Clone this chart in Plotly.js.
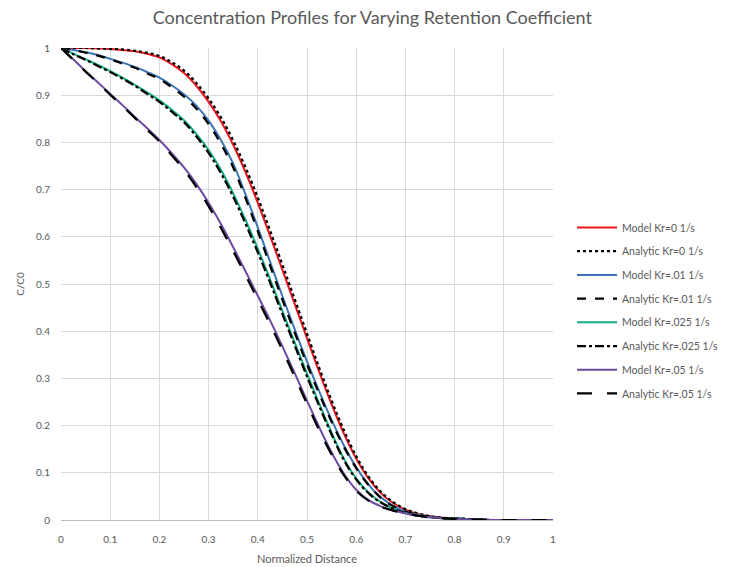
<!DOCTYPE html>
<html>
<head>
<meta charset="utf-8">
<script src="https://cdn.plot.ly/plotly-3.0.1.min.js"></script>
<style>html,body{margin:0;padding:0;background:#fff;}#chart{width:730px;height:567px;}</style>
</head>
<body>
<div id="chart"></div>
<script>
// Normalized distance positions
const distance = [0, 0.025, 0.05, 0.075, 0.1, 0.125, 0.15, 0.175, 0.2, 0.225,
                  0.25, 0.275, 0.3, 0.325, 0.35, 0.375, 0.4, 0.425, 0.45, 0.475,
                  0.5, 0.525, 0.55, 0.575, 0.6, 0.625, 0.65, 0.675, 0.7, 0.725,
                  0.75, 0.775, 0.8, 0.825, 0.85, 0.875, 0.9, 0.925, 0.95, 0.975, 1];

// Model series (C/C0)
const modelKr0   = [1, 1, 1, 0.999, 0.998, 0.996, 0.993, 0.988, 0.98, 0.966,
                    0.947, 0.92, 0.886, 0.845, 0.795, 0.737, 0.672, 0.602, 0.53, 0.458,
                    0.385, 0.313, 0.245, 0.183, 0.13, 0.088, 0.057, 0.036, 0.022, 0.013,
                    0.008, 0.005, 0.003, 0.002, 0.001, 0, 0, 0, 0, 0, 0];
const modelKr01  = [1, 0.996, 0.991, 0.985, 0.977, 0.969, 0.96, 0.949, 0.937, 0.921,
                    0.902, 0.878, 0.846, 0.805, 0.755, 0.69, 0.62, 0.547, 0.474, 0.404,
                    0.336, 0.272, 0.212, 0.158, 0.112, 0.075, 0.048, 0.03, 0.018, 0.011,
                    0.007, 0.004, 0.003, 0.002, 0.001, 0, 0, 0, 0, 0, 0];
const modelKr025 = [1, 0.988, 0.976, 0.964, 0.951, 0.937, 0.922, 0.906, 0.889, 0.869,
                    0.847, 0.818, 0.784, 0.742, 0.692, 0.636, 0.575, 0.51, 0.443, 0.376,
                    0.31, 0.246, 0.185, 0.13, 0.088, 0.058, 0.038, 0.024, 0.015, 0.009,
                    0.006, 0.004, 0.003, 0.002, 0.001, 0, 0, 0, 0, 0, 0];
const modelKr05  = [1, 0.976, 0.951, 0.927, 0.903, 0.879, 0.854, 0.83, 0.805, 0.777,
                    0.747, 0.712, 0.672, 0.627, 0.578, 0.527, 0.475, 0.423, 0.368, 0.311,
                    0.253, 0.196, 0.143, 0.098, 0.064, 0.042, 0.029, 0.02, 0.014, 0.009,
                    0.006, 0.004, 0.002, 0.001, 0.001, 0, 0, 0, 0, 0, 0];

// Analytic series (C/C0)
const analyticKr0   = [1, 1, 1, 0.999, 0.998, 0.997, 0.994, 0.99, 0.983, 0.97,
                       0.952, 0.926, 0.893, 0.853, 0.804, 0.747, 0.683, 0.613, 0.541, 0.468,
                       0.395, 0.322, 0.253, 0.19, 0.135, 0.092, 0.06, 0.038, 0.023, 0.014,
                       0.008, 0.005, 0.003, 0.002, 0.001, 0, 0, 0, 0, 0, 0];
const analyticKr01  = [1, 0.996, 0.99, 0.984, 0.976, 0.967, 0.958, 0.946, 0.934, 0.917,
                       0.897, 0.872, 0.839, 0.797, 0.747, 0.682, 0.612, 0.539, 0.467, 0.397,
                       0.33, 0.267, 0.208, 0.155, 0.11, 0.074, 0.047, 0.029, 0.018, 0.011,
                       0.007, 0.004, 0.003, 0.002, 0.001, 0, 0, 0, 0, 0, 0];
const analyticKr025 = [1, 0.987, 0.975, 0.962, 0.949, 0.935, 0.92, 0.903, 0.886, 0.865,
                       0.843, 0.813, 0.778, 0.735, 0.685, 0.628, 0.567, 0.503, 0.436, 0.37,
                       0.304, 0.241, 0.181, 0.127, 0.086, 0.057, 0.037, 0.024, 0.015, 0.009,
                       0.006, 0.004, 0.003, 0.002, 0.001, 0, 0, 0, 0, 0, 0];
const analyticKr05  = [1, 0.975, 0.95, 0.926, 0.901, 0.877, 0.852, 0.827, 0.802, 0.773,
                       0.742, 0.706, 0.665, 0.619, 0.57, 0.519, 0.467, 0.415, 0.36, 0.304,
                       0.246, 0.19, 0.139, 0.095, 0.062, 0.041, 0.028, 0.02, 0.014, 0.009,
                       0.006, 0.004, 0.002, 0.001, 0.001, 0, 0, 0, 0, 0, 0];

const seriesNames = ["Model Kr=0 1/s", "Analytic Kr=0 1/s", "Model Kr=.01 1/s", "Analytic Kr=.01 1/s",
                     "Model Kr=.025 1/s", "Analytic Kr=.025 1/s", "Model Kr=.05 1/s", "Analytic Kr=.05 1/s"];
const seriesData = [modelKr0, analyticKr0, modelKr01, analyticKr01, modelKr025, analyticKr025, modelKr05, analyticKr05];
const seriesColors = ["#E8141B", "#000000", "#3A74B3", "#000000", "#13AE86", "#000000", "#6D4A9E", "#000000"];
const seriesDash = ["solid", "dot", "solid", "dash", "solid", "dashdot", "solid", "longdash"];
const seriesWidth = [2, 2.25, 2, 2.25, 2, 2.25, 2, 2.25];

const traces = seriesData.map((ys, i) => ({
  type: "scatter",
  mode: "lines",
  x: distance,
  y: ys,
  name: seriesNames[i],
  legendgroup: "g" + i,
  line: {color: seriesColors[i], dash: seriesDash[i], width: seriesWidth[i], shape: "spline", smoothing: 1}
}));

const gray = "#595959";
const layout = {
  width: 730,
  height: 567,
  margin: {l: 61, r: 177, t: 48, b: 47},
  paper_bgcolor: "#ffffff",
  plot_bgcolor: "#ffffff",
  font: {family: "Lato, 'Open Sans', sans-serif", color: gray, size: 10},
  title: {text: "Concentration Profiles for Varying Retention Coefficient",
          font: {family: "Lato, 'Open Sans', sans-serif", size: 18, color: gray},
          xref: "container", x: 0.51, xanchor: "center", yref: "container", y: 0.968, yanchor: "middle"},
  xaxis: {
    range: [0, 1], dtick: 0.1, tick0: 0,
    showgrid: true, gridcolor: "#d9d9d9", gridwidth: 1,
    zeroline: false, showline: true, linecolor: "#bfbfbf", linewidth: 1,
    ticks: "", ticklabelstandoff: 10,
    tickfont: {size: 10, color: gray},
    title: {text: "Normalized Distance", font: {size: 11, color: gray}, standoff: 11},
    automargin: false, fixedrange: true
  },
  yaxis: {
    range: [0, 1], dtick: 0.1, tick0: 0,
    showgrid: true, gridcolor: "#d9d9d9", gridwidth: 1,
    zeroline: false, showline: false,
    ticks: "", ticklabelstandoff: 10,
    tickfont: {size: 10, color: gray},
    title: {text: "C/C0", font: {size: 10, color: gray}, standoff: 9},
    automargin: false, fixedrange: true
  },
  legend: {
    xref: "container", yref: "container",
    x: 0.7836, xanchor: "left", y: 0.6243, yanchor: "top",
    font: {size: 10.5, color: gray},
    itemwidth: 40,
    tracegroupgap: 4.7,
    traceorder: "grouped",
    bgcolor: "rgba(0,0,0,0)"
  },
  showlegend: true
};

Plotly.newPlot("chart", traces, layout, {displayModeBar: false, staticPlot: true});
</script>
</body>
</html>
